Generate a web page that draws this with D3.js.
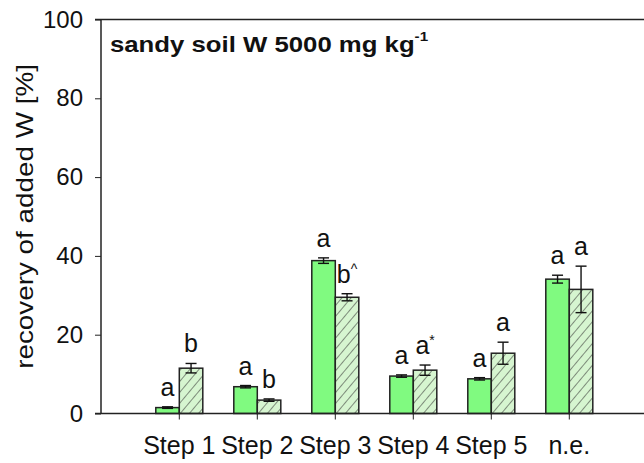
<!DOCTYPE html>
<html>
<head>
<meta charset="utf-8">
<script src="https://cdn.jsdelivr.net/npm/d3@7"></script>
<style>
  html, body { margin: 0; padding: 0; background: #fff; }
  svg { display: block; font-family: Arial, "Liberation Sans", sans-serif; }
</style>
</head>
<body>
<svg id="chart" width="644" height="463"></svg>
<script>
// Recovery of added W per extraction step (sandy soil, 5000 mg/kg)
const categories = ["Step 1", "Step 2", "Step 3", "Step 4", "Step 5", "n.e."];
const seriesNames = ["plain", "hatched"];
const plainValues = [1.5, 6.8, 38.8, 9.5, 8.8, 34.1];
const plainErrors = [0.2, 0.3, 0.7, 0.3, 0.3, 1.0];
const hatchedValues = [11.5, 3.4, 29.5, 11.0, 15.3, 31.5];
const hatchedErrors = [1.2, 0.3, 0.9, 1.3, 2.8, 5.9];
const plainLetters = ["a", "a", "a", "a", "a", "a"];
const hatchedLetters = ["b", "b", "b", "a", "a", "a"];
const hatchedMarks = ["", "", "^", "*", "", ""];
const yTicks = [0, 20, 40, 60, 80, 100];

const svg = d3.select("#chart");
const W = 644, H = 463;
const plotLeft = 101, plotTop = 19.5, plotBottom = 413.5;

const y = d3.scaleLinear().domain([0, 100]).range([plotBottom, plotTop]);
const x = d3.scaleBand().domain(categories).range([140.3, 608.3]).padding(0);
const xs = d3.scaleBand().domain(seriesNames).range([-23.5, 23.5]).padding(0);

// hatch pattern for the second series
const defs = svg.append("defs");
const pat = defs.append("pattern")
  .attr("id", "hatch")
  .attr("patternUnits", "userSpaceOnUse")
  .attr("width", 7).attr("height", 7)
  .attr("patternTransform", "rotate(40)");
pat.append("rect").attr("width", 7).attr("height", 7).attr("fill", "#d6f5d0");
pat.append("line").attr("x1", 0).attr("y1", 0).attr("x2", 0).attr("y2", 7)
  .attr("stroke", "#333").attr("stroke-width", 1.1);

const rows = categories.map((c, i) => ({
  cat: c,
  bars: [
    { s: "plain", v: plainValues[i], e: plainErrors[i], letter: plainLetters[i], mark: "" },
    { s: "hatched", v: hatchedValues[i], e: hatchedErrors[i], letter: hatchedLetters[i], mark: hatchedMarks[i] }
  ]
}));

const groups = svg.append("g").selectAll("g").data(rows).join("g")
  .attr("transform", d => `translate(${x(d.cat) + x.bandwidth() / 2},0)`);

groups.selectAll("rect").data(d => d.bars).join("rect")
  .attr("x", d => xs(d.s))
  .attr("width", xs.bandwidth())
  .attr("y", d => y(d.v))
  .attr("height", d => y(0) - y(d.v))
  .attr("fill", d => d.s === "plain" ? "#80fa80" : "url(#hatch)")
  .attr("stroke", "#222")
  .attr("stroke-width", 1.5);

// error bars
const eb = groups.selectAll("g.err").data(d => d.bars).join("g").attr("class", "err")
  .attr("transform", d => `translate(${xs(d.s) + xs.bandwidth() / 2},0)`);
eb.append("line")
  .attr("x1", 0).attr("x2", 0)
  .attr("y1", d => y(d.v + d.e)).attr("y2", d => y(d.v - d.e))
  .attr("stroke", "#111").attr("stroke-width", 1.4);
eb.selectAll("line.cap").data(d => [d.v + d.e, d.v - d.e]).join("line").attr("class", "cap")
  .attr("x1", -5.5).attr("x2", 5.5)
  .attr("y1", v => y(v)).attr("y2", v => y(v))
  .attr("stroke", "#111").attr("stroke-width", 1.4);

// significance letters
const lab = eb.append("text")
  .attr("x", 0)
  .attr("y", d => y(d.v + d.e) - 11)
  .attr("text-anchor", "middle")
  .attr("font-size", 25)
  .attr("fill", "#111");
lab.append("tspan").text(d => d.letter);
lab.filter(d => d.mark).append("tspan")
  .attr("font-size", 14).attr("dy", -9)
  .text(d => d.mark);

// axes
const yAxis = d3.axisLeft(y).tickValues(yTicks).tickSize(6).tickPadding(12).tickSizeOuter(0);
const gy = svg.append("g").attr("transform", `translate(${plotLeft},0)`).call(yAxis);
gy.select(".domain").remove();
gy.selectAll("text").attr("font-size", 24).attr("fill", "#111").attr("font-family", "Arial, 'Liberation Sans', sans-serif");
gy.selectAll("line").attr("stroke", "#222");

const xAxis = d3.axisBottom(x).tickSize(6).tickPadding(17).tickSizeOuter(0);
const gx = svg.append("g").attr("transform", `translate(0,${plotBottom})`).call(xAxis);
gx.select(".domain").remove();
gx.selectAll("text").attr("font-size", 25).attr("fill", "#111").attr("font-family", "Arial, 'Liberation Sans', sans-serif");
gx.selectAll("line").attr("stroke", "#222");

// frame lines (open on the right)
svg.append("line").attr("x1", plotLeft).attr("x2", plotLeft).attr("y1", plotTop).attr("y2", plotBottom)
  .attr("stroke", "#222").attr("stroke-width", 1.5);
svg.append("line").attr("x1", 95).attr("x2", W).attr("y1", plotTop).attr("y2", plotTop)
  .attr("stroke", "#222").attr("stroke-width", 1.5);
svg.append("line").attr("x1", 95).attr("x2", W).attr("y1", plotBottom).attr("y2", plotBottom)
  .attr("stroke", "#222").attr("stroke-width", 1.5);

// axis title (slightly elongated along its reading direction)
svg.append("text")
  .attr("transform", `translate(33,${(plotTop + plotBottom) / 2}) rotate(-90) scale(1.16,1)`)
  .attr("text-anchor", "middle")
  .attr("font-size", 24)
  .attr("fill", "#111")
  .text("recovery of added W [%]");

// panel title
const title = svg.append("text")
  .attr("transform", "translate(110,52) scale(1.17,1)")
  .attr("font-size", 22).attr("font-weight", "bold").attr("fill", "#111");
title.append("tspan").text("sandy soil  W 5000 mg kg");
title.append("tspan").attr("font-size", 13).attr("dy", -11).text("-1");
</script>
</body>
</html>
